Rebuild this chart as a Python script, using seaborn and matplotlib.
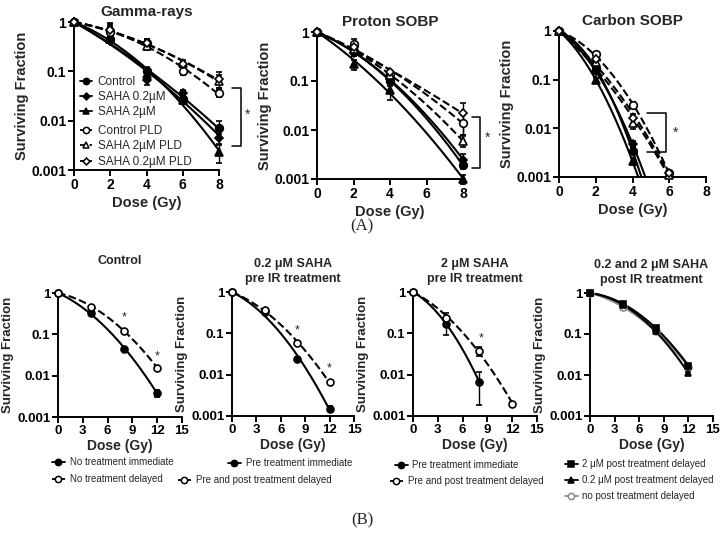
import numpy as np
import pandas as pd
import seaborn as sns
import matplotlib.pyplot as plt
from matplotlib.lines import Line2D
from matplotlib.ticker import FixedLocator, FixedFormatter, NullLocator

# ---------------- (A) Gamma-rays ----------------
gamma_dose = [0, 2, 4, 6, 8]
gamma_ctrl = [1, 0.45, 0.10, 0.028, 0.0072]
gamma_ctrl_err = [0, 0.05, 0.02, 0.004, 0.0025]
gamma_saha02 = [1, 0.42, 0.066, 0.037, 0.0044]
gamma_saha02_err = [0, 0.05, 0.012, 0.005, 0.001]
gamma_saha2 = [1, 0.45, 0.09, 0.026, 0.0023]
gamma_saha2_err = [0, 0.04, 0.015, 0.004, 0.0009]
gamma_ctrl_pld = [1, 0.64, 0.37, 0.10, 0.036]
gamma_ctrl_pld_err = [0, 0.25, 0.08, 0.015, 0.006]
gamma_saha2_pld = [1, 0.80, 0.33, 0.15, 0.065]
gamma_saha2_pld_err = [0, 0.15, 0.06, 0.02, 0.02]
gamma_saha02_pld = [1, 0.70, 0.38, 0.14, 0.070]
gamma_saha02_pld_err = [0, 0.12, 0.07, 0.02, 0.025]

# ---------------- (A) Proton SOBP ----------------
proton_dose = [0, 2, 4, 8]
proton_ctrl = [1, 0.40, 0.10, 0.0019]
proton_ctrl_err = [0, 0.08, 0.02, 0.0003]
proton_saha02 = [1, 0.38, 0.11, 0.0025]
proton_saha02_err = [0, 0.06, 0.02, 0.0008]
proton_saha2 = [1, 0.22, 0.065, 0.0010]
proton_saha2_err = [0, 0.05, 0.025, 0.0002]
proton_ctrl_pld = [1, 0.58, 0.14, 0.014]
proton_ctrl_pld_err = [0, 0.15, 0.02, 0.006]
proton_saha2_pld = [1, 0.45, 0.13, 0.006]
proton_saha2_pld_err = [0, 0.08, 0.02, 0.0015]
proton_saha02_pld = [1, 0.50, 0.15, 0.022]
proton_saha02_pld_err = [0, 0.08, 0.02, 0.014]

# ---------------- (A) Carbon SOBP ----------------
carbon_dose = [0, 2, 4, 6]
carbon_ctrl = [1, 0.17, 0.0035, np.nan]
carbon_ctrl_err = [0, 0.02, 0.0006, 0]
carbon_saha02 = [1, 0.15, 0.0048, np.nan]
carbon_saha02_err = [0, 0.02, 0.0008, 0]
carbon_saha2 = [1, 0.10, 0.0021, np.nan]
carbon_saha2_err = [0, 0.01, 0.0003, 0]
carbon_ctrl_pld = [1, 0.33, 0.030, 0.0012]
carbon_ctrl_pld_err = [0, 0.03, 0.004, 0.0001]
carbon_saha2_pld = [1, 0.23, 0.0126, 0.0011]
carbon_saha2_pld_err = [0, 0.03, 0.003, 0.0001]
carbon_saha02_pld = [1, 0.26, 0.016, 0.0012]
carbon_saha02_pld_err = [0, 0.03, 0.004, 0.0001]

# ---------------- (B) delayed plating ----------------
b_dose = [0, 4, 8, 12]
ctrl_immediate = [1, 0.33, 0.044, 0.0038]
ctrl_immediate_err = [0, 0.02, 0.004, 0.0008]
ctrl_delayed = [1, 0.47, 0.123, 0.0154]
ctrl_delayed_err = [0, 0.02, 0.01, 0.001]

pre02_immediate = [1, 0.33, 0.024, 0.0015]
pre02_immediate_err = [0, 0.03, 0.002, 0.0002]
pre02_delayed = [1, 0.37, 0.060, 0.0065]
pre02_delayed_err = [0, 0.02, 0.005, 0.0005]

pre2_immediate = [1, 0.17, 0.0068, np.nan]
pre2_immediate_err = [0, 0.08, 0.005, 0]
pre2_delayed = [1, 0.24, 0.038, 0.0020]
pre2_delayed_err = [0, 0.07, 0.01, 0.0002]

post2_delayed = [1, 0.55, 0.14, 0.017]
post2_delayed_err = [0, 0.06, 0.02, 0.002]
post02_delayed = [1, 0.50, 0.12, 0.011]
post02_delayed_err = [0, 0.06, 0.02, 0.001]
nopost_delayed = [1, 0.45, 0.12, 0.016]
nopost_delayed_err = [0, 0.06, 0.02, 0.002]

W, H = 725, 538
sns.set_theme(style="ticks")
plt.rcParams['font.family'] = ['Liberation Sans', 'DejaVu Sans']
plt.rcParams['font.weight'] = 'bold'
plt.rcParams['axes.labelweight'] = 'bold'

fig = plt.figure(figsize=(W / 100, H / 100), dpi=100)


def rect(l, r, t, b):
    return [l / W, 1 - b / H, (r - l) / W, (b - t) / H]


def lq_fit(d, sf):
    A = np.column_stack([d, d ** 2])
    coef, *_ = np.linalg.lstsq(A, -np.log(sf), rcond=None)
    return coef


# marker, filled, linestyle, color
STY = {
    'ctrl': ('o', True, '-', 'black'),
    'saha02': ('D', True, '-', 'black'),
    'saha2': ('^', True, '-', 'black'),
    'ctrl_pld': ('o', False, '--', 'black'),
    'saha2_pld': ('^', False, '--', 'black'),
    'saha02_pld': ('D', False, '--', 'black'),
    'sq': ('s', True, '-', 'black'),
    'grey': ('o', False, '-', '#8c8c8c'),
}


def draw(ax, dose, sf, err, key, xmax=None, ms=5.5):
    m, filled, ls, col = STY[key]
    dose = np.asarray(dose, float)
    sf = np.asarray(sf, float)
    err = np.asarray(err, float)
    ok = ~np.isnan(sf)
    a, b = lq_fit(dose[ok], sf[ok])
    end = dose[ok].max() if xmax is None else xmax
    xs = np.linspace(0, end, 300)
    fit = pd.DataFrame({'Dose': xs, 'SF': np.exp(-a * xs - b * xs ** 2)})
    sns.lineplot(data=fit, x='Dose', y='SF', ax=ax, color=col, linestyle=ls,
                 linewidth=1.5, estimator=None)
    msz = ms - 1.5 if m == 'D' else ms
    ax.errorbar(dose[ok], sf[ok], yerr=err[ok], fmt=m, ms=msz,
                mfc=col if filled else 'white', mec=col, mew=1.2,
                ecolor=col, elinewidth=1.0, capsize=2.5, capthick=1.0,
                clip_on=False, zorder=4)


def style(ax, xmax, xticks, tick_fs=9.5):
    ax.set_yscale('log')
    ax.set_ylim(0.001, 1)
    ax.set_xlim(0, xmax)
    ax.yaxis.set_major_locator(FixedLocator([0.001, 0.01, 0.1, 1]))
    ax.yaxis.set_major_formatter(FixedFormatter(['0.001', '0.01', '0.1', '1']))
    ax.yaxis.set_minor_locator(NullLocator())
    ax.set_xticks(xticks)
    ax.set_xticklabels([str(t) for t in xticks])
    for s in ['top', 'right']:
        ax.spines[s].set_visible(False)
    for s in ['left', 'bottom']:
        ax.spines[s].set_linewidth(1.4)
        ax.spines[s].set_color('black')
    ax.tick_params(direction='out', length=4, width=1.4, labelsize=tick_fs,
                   pad=1.5, colors='black')


def handle(key, ms=5):
    m, filled, ls, col = STY[key]
    return Line2D([], [], marker=m, ms=ms - 1 if m == 'D' else ms, color=col,
                  linestyle=ls, lw=1.3, mfc=col if filled else 'white',
                  mec=col, mew=1.1)


def entry(key, label, x, y, fs=7, hl=1.3):
    fig.legend(handles=[handle(key, ms=4.5)], labels=[label], loc='center left',
               bbox_to_anchor=(x / W, 1 - y / H), frameon=False,
               prop={'size': fs, 'weight': 'normal'}, handlelength=hl,
               handletextpad=0.5, borderpad=0, borderaxespad=0)


def bracket(ax, x0, x1, ylo, yhi, xs, ys):
    ax.plot([x0, x1, x1, x0], [yhi, yhi, ylo, ylo], color='black', lw=1.1,
            clip_on=False)
    ax.text(xs, ys, '*', fontsize=10, fontweight='normal', ha='center',
            va='center')


# ---------- top row ----------
axg = fig.add_axes(rect(74, 219, 22, 170))
axp = fig.add_axes(rect(317, 463, 32, 179))
axc = fig.add_axes(rect(559, 706, 31, 177))

for ax, dose, series in [
    (axg, gamma_dose, [(gamma_ctrl, gamma_ctrl_err, 'ctrl'),
                       (gamma_saha02, gamma_saha02_err, 'saha02'),
                       (gamma_saha2, gamma_saha2_err, 'saha2'),
                       (gamma_ctrl_pld, gamma_ctrl_pld_err, 'ctrl_pld'),
                       (gamma_saha2_pld, gamma_saha2_pld_err, 'saha2_pld'),
                       (gamma_saha02_pld, gamma_saha02_pld_err, 'saha02_pld')]),
    (axp, proton_dose, [(proton_ctrl, proton_ctrl_err, 'ctrl'),
                        (proton_saha02, proton_saha02_err, 'saha02'),
                        (proton_saha2, proton_saha2_err, 'saha2'),
                        (proton_ctrl_pld, proton_ctrl_pld_err, 'ctrl_pld'),
                        (proton_saha2_pld, proton_saha2_pld_err, 'saha2_pld'),
                        (proton_saha02_pld, proton_saha02_pld_err, 'saha02_pld')]),
    (axc, carbon_dose, [(carbon_ctrl, carbon_ctrl_err, 'ctrl'),
                        (carbon_saha02, carbon_saha02_err, 'saha02'),
                        (carbon_saha2, carbon_saha2_err, 'saha2'),
                        (carbon_ctrl_pld, carbon_ctrl_pld_err, 'ctrl_pld'),
                        (carbon_saha2_pld, carbon_saha2_pld_err, 'saha2_pld'),
                        (carbon_saha02_pld, carbon_saha02_pld_err, 'saha02_pld')]),
]:
    for sf, err, key in series:
        draw(ax, dose, sf, err, key, xmax=8)
    style(ax, 8, [0, 2, 4, 6, 8], tick_fs=10)
    ax.set_xlabel('Dose (Gy)', fontsize=10.5, labelpad=3)
    ax.set_ylabel('Surviving Fraction', fontsize=10.5, labelpad=2)

axg.set_title('Gamma-rays', fontsize=11, fontweight='bold', pad=4)
axp.set_title('Proton SOBP', fontsize=11, fontweight='bold', pad=4)
axc.set_title('Carbon SOBP', fontsize=11, fontweight='bold', pad=4)

bracket(axg, 8.72, 9.2, 0.003, 0.046, 9.6, 0.013)
bracket(axp, 8.49, 8.93, 0.0017, 0.018, 9.37, 0.0068)
bracket(axc, 4.78, 5.82, 0.0033, 0.021, 6.36, 0.008)

gamma_labels = ['Control', 'SAHA 0.2µM', 'SAHA 2µM',
                'Control PLD', 'SAHA 2µM PLD', 'SAHA 0.2µM PLD']
gamma_keys = ['ctrl', 'saha02', 'saha2', 'ctrl_pld', 'saha2_pld', 'saha02_pld']
gamma_leg_y = [82, 97, 112, 131, 146, 162]
for key, lab, yy in zip(gamma_keys, gamma_labels, gamma_leg_y):
    entry(key, lab, 80, yy, fs=8.5, hl=1.0)

fig.text(362 / W, 1 - 226 / H, '(A)', family=['Liberation Serif', 'DejaVu Serif'],
         fontsize=12, fontweight='normal', ha='center', va='center')

# ---------- bottom row ----------
axb = [fig.add_axes(rect(58, 182, 293, 417)),
       fig.add_axes(rect(232, 354, 292, 416)),
       fig.add_axes(rect(413, 537, 292, 416)),
       fig.add_axes(rect(590, 713, 293, 416))]

b_series = [
    [(ctrl_immediate, ctrl_immediate_err, 'ctrl'),
     (ctrl_delayed, ctrl_delayed_err, 'ctrl_pld')],
    [(pre02_immediate, pre02_immediate_err, 'ctrl'),
     (pre02_delayed, pre02_delayed_err, 'ctrl_pld')],
    [(pre2_immediate, pre2_immediate_err, 'ctrl'),
     (pre2_delayed, pre2_delayed_err, 'ctrl_pld')],
    [(nopost_delayed, nopost_delayed_err, 'grey'),
     (post02_delayed, post02_delayed_err, 'saha2'),
     (post2_delayed, post2_delayed_err, 'sq')],
]
b_titles = ['Control', '0.2 μM SAHA\npre IR treatment',
            '2 μM SAHA\npre IR treatment', '0.2 and 2 μM SAHA\npost IR treatment']

for ax, series, title in zip(axb, b_series, b_titles):
    for sf, err, key in series:
        draw(ax, b_dose, sf, err, key, ms=5)
    style(ax, 15, [0, 3, 6, 9, 12, 15], tick_fs=9.5)
    ax.set_xlabel('Dose (Gy)', fontsize=10, labelpad=2)
    ax.set_ylabel('Surviving Fraction', fontsize=9.5, labelpad=2)
    ax.set_title(title, fontsize=9, fontweight='bold',
                 pad=21 if '\n' not in title else 7.5, linespacing=1.25)

# significance stars
for ax, xs, ys in [(axb[0], 8, 0.25), (axb[0], 12, 0.029),
                   (axb[1], 8, 0.118), (axb[1], 12, 0.014),
                   (axb[2], 8.3, 0.077)]:
    ax.text(xs, ys, '*', fontsize=9, fontweight='normal', ha='center', va='center')

entry('ctrl', 'No treatment immediate', 52, 462)
entry('ctrl_pld', 'No treatment delayed', 52, 479)
entry('ctrl', 'Pre treatment immediate', 228, 463)
entry('ctrl_pld', 'Pre and post treatment delayed', 178, 480)
entry('ctrl', 'Pre treatment immediate', 395, 465)
entry('ctrl_pld', 'Pre and post treatment delayed', 390, 481)
entry('sq', '2 μM post treatment delayed', 565, 464)
entry('saha2', '0.2 μM post treatment delayed', 565, 480)
entry('grey', 'no post treatment delayed', 565, 496)

fig.text(362 / W, 1 - 520 / H, '(B)', family=['Liberation Serif', 'DejaVu Serif'],
         fontsize=12, fontweight='normal', ha='center', va='center')

fig.savefig('out.png', dpi=100)
